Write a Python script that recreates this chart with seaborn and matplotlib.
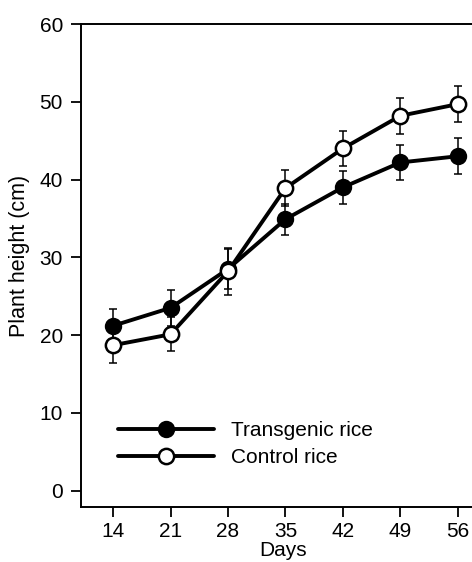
import seaborn as sns
import matplotlib
matplotlib.use("Agg")
import matplotlib.pyplot as plt
import pandas as pd

days = [14, 21, 28, 35, 42, 49, 56]
transgenic = [21.2, 23.5, 28.5, 34.9, 39.0, 42.2, 43.0]
transgenic_err = [2.2, 2.3, 2.6, 2.0, 2.1, 2.2, 2.3]
control = [18.7, 20.1, 28.2, 38.9, 44.0, 48.2, 49.7]
control_err = [2.3, 2.2, 3.0, 2.3, 2.2, 2.3, 2.3]
y_ticks = [0, 10, 20, 30, 40, 50, 60]


def plant_height_plot():
    sns.set_style("ticks")
    plt.rcParams["font.family"] = ["Liberation Sans", "DejaVu Sans"]
    plt.rcParams["text.color"] = "black"
    plt.rcParams["axes.labelcolor"] = "black"
    plt.rcParams["xtick.color"] = "black"
    plt.rcParams["ytick.color"] = "black"
    data = pd.DataFrame({"Days": days, "Transgenic": transgenic, "Control": control})

    fig = plt.figure(figsize=(4.72, 5.62), dpi=100)
    ax = fig.add_axes([81 / 472, 55 / 562, (485 - 81) / 472, 483 / 562])

    ax.errorbar(days, transgenic, yerr=transgenic_err, fmt="none", ecolor="black",
                elinewidth=1.1, capsize=3.2, capthick=1.1, zorder=1)
    ax.errorbar(days, control, yerr=control_err, fmt="none", ecolor="black",
                elinewidth=1.1, capsize=3.2, capthick=1.1, zorder=1)

    sns.lineplot(x="Days", y="Transgenic", data=data, ax=ax, color="black", lw=2.8,
                 marker="o", ms=11, mfc="black", mec="black", mew=1.5,
                 label="Transgenic rice", zorder=3)
    sns.lineplot(x="Days", y="Control", data=data, ax=ax, color="black", lw=2.8,
                 marker="o", ms=11, mfc="white", mec="black", mew=1.8,
                 label="Control rice", zorder=4)

    ax.set_xlim(10.1, 59.3)
    ax.set_ylim(-2.1, 60)
    ax.set_xticks(days)
    ax.set_yticks(y_ticks)
    ax.tick_params(axis="both", labelsize=15, width=1.3, length=7, color="black",
                   labelcolor="black")
    ax.tick_params(axis="y", pad=6)
    ax.tick_params(axis="x", pad=4)
    for side in ["left", "bottom", "top"]:
        ax.spines[side].set_linewidth(1.4)
        ax.spines[side].set_color("black")
    ax.spines["right"].set_visible(False)

    ax.set_xlabel("Days", fontsize=15, labelpad=0, color="black")
    ax.set_ylabel("Plant height (cm)", fontsize=15.5, color="black")
    ax.yaxis.set_label_coords(-0.125, 0.52)

    leg = ax.legend(loc="center left", bbox_to_anchor=(0.092, 0.13), frameon=False,
                    fontsize=15, handlelength=4.6, handletextpad=0.8,
                    borderpad=0, borderaxespad=0, labelspacing=0.38)
    for t in leg.get_texts():
        t.set_color("black")
    fig.savefig("out.png", dpi=100)


if __name__ == '__main__':
    plant_height_plot()
